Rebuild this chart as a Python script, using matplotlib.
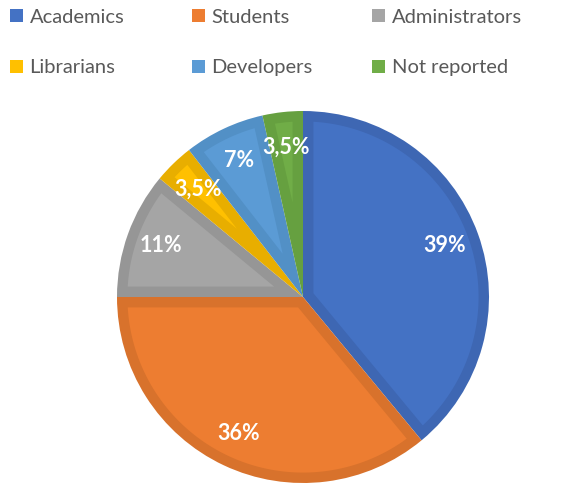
import numpy as np
import matplotlib.pyplot as plt
from matplotlib.patches import Patch, Polygon

labels = ["Academics", "Students", "Administrators", "Librarians", "Developers", "Not reported"]
shares = [39, 36, 11, 3.5, 7, 3.5]
colors = ["#4472C4", "#ED7D31", "#A5A5A5", "#FFC000", "#5B9BD5", "#70AD47"]
borders = ["#3E67B3", "#D8722C", "#969696", "#E8AE00", "#5290C6", "#66A040"]

plt.rcParams['font.family'] = ['Lato', 'DejaVu Sans']


def pct_label(v):
    v = round(v, 1)
    if v == int(v):
        return "%d%%" % int(v)
    return ("%.1f%%" % v).replace(".", ",")


def inset_wedge(w, d):
    # lighter inner part of a slice, inset by d from every side
    R = w.r
    t1, t2 = np.radians(w.theta1), np.radians(w.theta2)
    half = (t2 - t1) / 2
    mid = t1 + half
    apex = d / np.sin(half)
    a = np.sqrt((R - d) ** 2 - d ** 2)
    delta = np.arctan2(d, a)
    th = np.linspace(t1 + delta, t2 - delta, 80)
    pts = [(apex * np.cos(mid), apex * np.sin(mid))]
    pts += list(zip((R - d) * np.cos(th), (R - d) * np.sin(th)))
    return np.array(pts)


fig = plt.figure(figsize=(5.73, 4.83), dpi=100)
ax = fig.add_axes([(303 - 186) / 573, (483 - 297 - 186) / 483, 372 / 573, 372 / 483])

wedges, texts, autotexts = ax.pie(shares, colors=borders, startangle=90, counterclock=False,
                                  autopct=pct_label, pctdistance=0.81, radius=1,
                                  wedgeprops=dict(linewidth=0))
for w, c in zip(wedges, colors):
    ax.add_patch(Polygon(inset_wedge(w, 0.056), closed=True, facecolor=c, edgecolor="none", zorder=w.get_zorder() + 0.1))
for t in autotexts:
    t.set_color("white")
    t.set_fontsize(15.5)
    t.set_fontweight("bold")
    t.set_zorder(5)
ax.set_xlim(-1, 1)
ax.set_ylim(-1, 1)
ax.set_aspect("equal")
ax.axis("off")

# legend: three columns, row-wise order like the original
col_x = [6 / 573, 188 / 573, 368 / 573]
for k in range(3):
    idx = [k, k + 3]
    handles = [Patch(facecolor=colors[i], edgecolor="none") for i in idx]
    leg = fig.legend(handles, [labels[i] for i in idx], loc="upper left",
                     bbox_to_anchor=(col_x[k], 1 - 5 / 483), frameon=False, fontsize=14.5,
                     handlelength=0.62, handleheight=0.62, handletextpad=0.35,
                     labelspacing=1.65, borderaxespad=0.0, borderpad=0.2)
    for t in leg.get_texts():
        t.set_color("#595959")

fig.savefig("out.png", dpi=100)
